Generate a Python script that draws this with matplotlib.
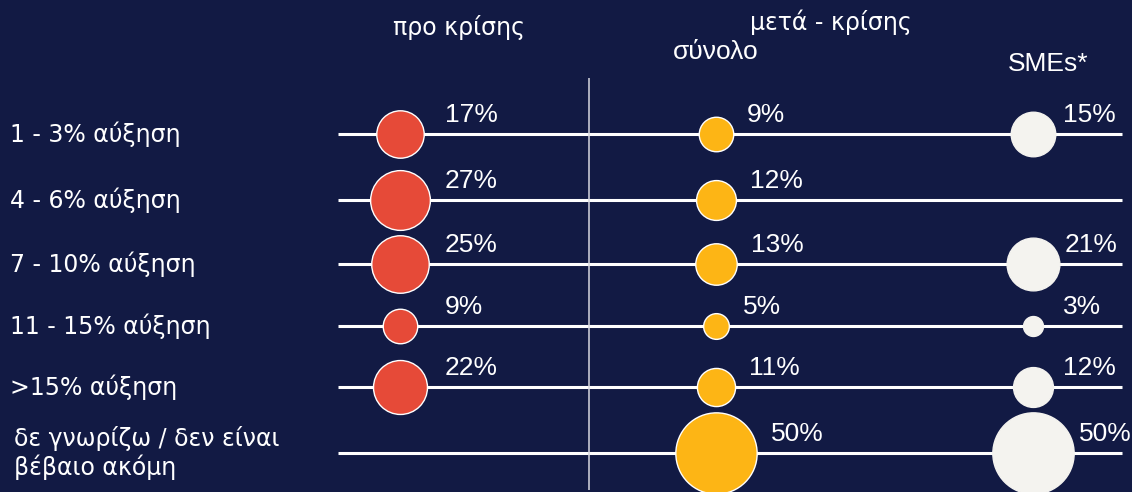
import numpy as np
import matplotlib
matplotlib.use("Agg")
import matplotlib.pyplot as plt

# data
categories = ["1 - 3% αύξηση", "4 - 6% αύξηση", "7 - 10% αύξηση",
              "11 - 15% αύξηση", ">15% αύξηση",
              "δε γνωρίζω / δεν είναι\nβέβαιο ακόμη"]
pre_crisis = [17, 27, 25, 9, 22, None]
post_total = [9, 12, 13, 5, 11, 50]
post_smes = [15, None, 21, 3, 12, 50]

# layout (pixel coordinates)
BG = "#121a44"
row_y = [134, 200, 264, 326, 387, 453]
col_x = [400, 716, 1033]
col_colors = ["#e64a38", "#fdb515", "#f4f3ef"]
col_edges = ["white", "white", "#f4f3ef"]
label_base = [45, 24, 30]
label_gap = [14, 14, 5]

fig = plt.figure(figsize=(11.32, 4.92), dpi=100, facecolor=BG)
ax = fig.add_axes([0, 0, 1, 1])
ax.set_facecolor(BG)
ax.set_xlim(0, 1132)
ax.set_ylim(492, 0)
ax.set_axis_off()

# horizontal lines and divider
ax.hlines(row_y, 338, 1122, color="white", lw=2.2, zorder=1)
ax.vlines(589, 78, 490, color="#d8d8e0", lw=1.1, zorder=1)

px_per_pt = 100 / 72
for ci, series in enumerate([pre_crisis, post_total, post_smes]):
    for ri, v in enumerate(series):
        if v is None:
            continue
        d_px = 11.5 * np.sqrt(v)
        d_pt = d_px / px_per_pt
        ax.scatter(col_x[ci], row_y[ri], s=d_pt ** 2, color=col_colors[ci],
                   edgecolors=col_edges[ci], linewidths=1.0, zorder=3)
        off = max(label_base[ci], d_px / 2 + label_gap[ci])
        ax.text(col_x[ci] + off, row_y[ri] - 19, f"{v}%", color="white",
                fontsize=19, family="Liberation Sans", ha="left", va="center")

# category labels
for ri, cat in enumerate(categories):
    x0 = 10 if "\n" not in cat else 14
    ax.text(x0, row_y[ri], cat, color="white", fontsize=17,
            family="DejaVu Sans", ha="left", va="center", linespacing=1.15)

# headers
ax.text(459, 27, "προ κρίσης", color="white", fontsize=17,
        family="DejaVu Sans", ha="center", va="center")
ax.text(831, 22, "μετά - κρίσης", color="white", fontsize=17,
        family="DejaVu Sans", ha="center", va="center")
ax.text(716, 52, "σύνολο", color="white", fontsize=19,
        family="Liberation Sans", ha="center", va="center")
ax.text(1048, 64, "SMEs*", color="white", fontsize=19,
        family="Liberation Sans", ha="center", va="center")

fig.savefig("out.png", dpi=100, facecolor=BG)
